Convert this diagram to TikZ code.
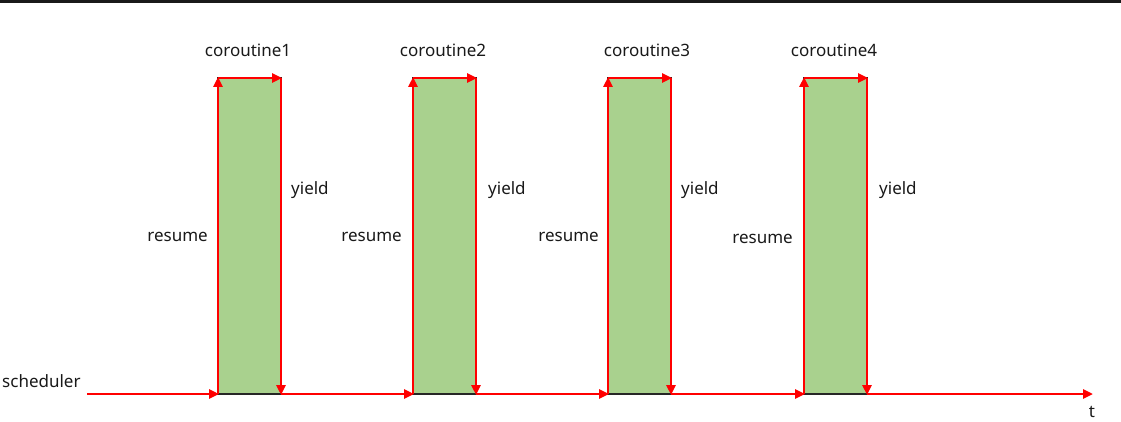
\documentclass[tikz,border=0pt]{standalone}
\usepackage{fontspec}
\setmainfont{Noto Sans}
\usetikzlibrary{arrows.meta}
\definecolor{cgreen}{RGB}{169,209,142}
\definecolor{cred}{RGB}{255,0,0}
\tikzset{
  x=1pt, y=-1pt,
  cobox/.style={draw=black!85, line width=1.2pt, fill=cgreen, minimum width=63pt, minimum height=316pt, inner sep=0pt, outer sep=0pt, anchor=north west},
  redarrow/.style={draw=cred, line width=2.8pt, -{Triangle[length=10pt,width=9pt]}, shorten >=-1pt},
  lbl/.style={font=\fontsize{17}{20}\selectfont, inner sep=0pt, text=black!90},
}
\begin{document}
\begin{tikzpicture}
\useasboundingbox (0,0) rectangle (1121,422);
\fill[black!90] (0,0) rectangle (1121,3.5);
% boxes
\node[cobox] (c1) at (218,78) {};
\node[cobox] (c2) at (413,78) {};
\node[cobox] (c3) at (608,78) {};
\node[cobox] (c4) at (804,78) {};
% timeline ends
\coordinate (s0) at (87,394);
\coordinate (tend) at (1092,394);
% labels
\node[lbl] (l1) at (248,50) {coroutine1};
\node[lbl] (l2) at (443,50) {coroutine2};
\node[lbl] (l3) at (647,50) {coroutine3};
\node[lbl] (l4) at (834,50) {coroutine4};
\node[lbl, anchor=west] (y1) at (291,190) {yield};
\node[lbl, anchor=west] (y2) at (488,190) {yield};
\node[lbl, anchor=west] (y3) at (681,190) {yield};
\node[lbl, anchor=west] (y4) at (879,190) {yield};
\node[lbl, anchor=east] (r1) at (208,237) {resume};
\node[lbl, anchor=east] (r2) at (402,237) {resume};
\node[lbl, anchor=east] (r3) at (599,237) {resume};
\node[lbl, anchor=east] (r4) at (793,239) {resume};
\node[lbl, anchor=west] (sch) at (2,381) {scheduler};
\node[lbl] (t) at (1092,412) {t};
% timeline arrows
\draw[redarrow] (s0) -- (c1.south west);
\draw[redarrow] (c1.south east) -- (c2.south west);
\draw[redarrow] (c2.south east) -- (c3.south west);
\draw[redarrow] (c3.south east) -- (c4.south west);
\draw[redarrow] (c4.south east) -- (tend);
% box arrows
\foreach \c in {c1,c2,c3,c4}{
  \draw[redarrow] (\c.south west) -- (\c.north west);
  \draw[redarrow] (\c.north west) -- (\c.north east);
  \draw[redarrow] (\c.north east) -- (\c.south east);
}
\end{tikzpicture}
\end{document}
